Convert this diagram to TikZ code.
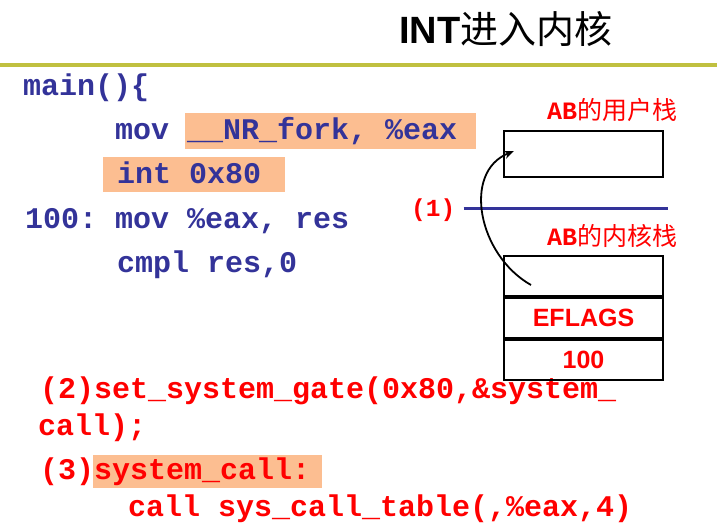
\documentclass[tikz,border=0pt]{standalone}
\usepackage{fontspec}
\setmainfont{Liberation Sans}
\newfontfamily\codefont{Liberation Mono}
\newfontfamily\cjk{Noto Sans CJK SC}
\usetikzlibrary{arrows.meta}
\definecolor{codeblue}{RGB}{51,51,153}
\definecolor{hlpeach}{RGB}{252,190,145}
\definecolor{myolive}{RGB}{192,192,64}
\begin{document}
\frenchspacing
\begin{tikzpicture}[x=1pt,y=-1pt,
  code/.style={anchor=base west, inner sep=0pt, font=\frenchspacing\codefont\bfseries\fontsize{30}{36}\selectfont, text=codeblue},
  redcode/.style={code, text=red},
  lbl/.style={anchor=base west, inner sep=0pt, text=red, font=\fontsize{25}{30}\selectfont},
  cell/.style={draw=black, line width=2pt, minimum width=159pt, minimum height=40pt, inner sep=0pt, font=\bfseries\fontsize{25}{30}\selectfont, text=red, anchor=north west}]
\useasboundingbox (0,0) rectangle (717,531);
\fill[white] (0,0) rectangle (717,531);
% title and rule
\node[anchor=base, inner sep=0pt, font=\fontsize{38}{44}\selectfont] (title) at (506,43) {{\bfseries INT}{\cjk 进入内核}};
\coordinate (ruleL) at (0,65);
\coordinate (ruleR) at (717,65);
\draw[myolive, line width=4pt] (ruleL) -- (ruleR);
% highlights
\fill[hlpeach] (185,113) rectangle (476,149);
\fill[hlpeach] (103,157) rectangle (285,192);
\fill[hlpeach] (93,455) rectangle (322,488);
% code
\node[code] (l1) at (23,95) {main()\{};
\node[code] (l2) at (115,139) {mov \_\_NR\_fork, \%eax};
\node[code] (l3) at (117,183) {int 0x80};
\node[code] (l4) at (25,228) {100: mov \%eax, res};
\node[code] (l5) at (117,272) {cmpl res,0};
\node[redcode] (b1) at (40,398) {(2)set\_system\_gate(0x80,\&system\_};
\node[redcode] (b2) at (38,435) {call);};
\node[redcode] (b3) at (40,479) {(3)system\_call:};
\node[redcode] (b4) at (128,516) {call sys\_call\_table(,\%eax,4)};
% stacks
\node[lbl] (ulbl) at (547,119) {{\codefont\bfseries AB}{\cjk 的用户栈}};
\node[cell, minimum height=46pt] (ustack) at (503,130) {};
\node[lbl] (klbl) at (547,245) {{\codefont\bfseries AB}{\cjk 的内核栈}};
\node[cell] (k1) at (503,255) {};
\node[cell, anchor=north] (k2) at (k1.south) {EFLAGS};
\node[cell, anchor=north] (k3) at (k2.south) {100};
% (1) and boundary line
\node[anchor=base west, inner sep=0pt, text=red, font=\codefont\bfseries\fontsize{24.5}{30}\selectfont] (one) at (411,216) {(1)};
\coordinate (lineEnd) at (668,208);
\draw[codeblue, line width=3pt] ([xshift=8pt]one.east |- lineEnd) -- (lineEnd);
% arrow
\coordinate (aS) at (531,285);
\coordinate (aE) at (514,151);
\draw[-{Stealth[length=10pt,width=8pt]}, line width=1.8pt] (aS) .. controls (478,255) and (462,172) .. (aE);
\end{tikzpicture}
\end{document}
